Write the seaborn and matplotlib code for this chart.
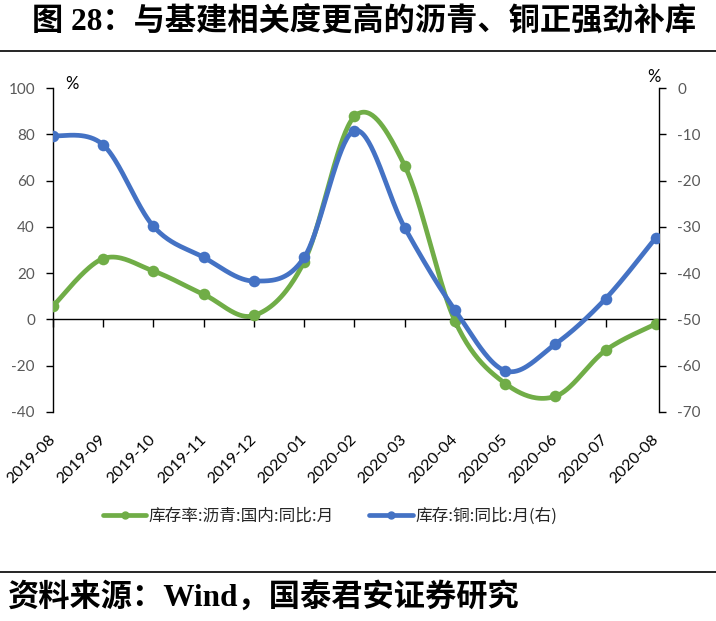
import numpy as np
import pandas as pd
import matplotlib
matplotlib.use("Agg")
import matplotlib.pyplot as plt
from matplotlib.lines import Line2D
import seaborn as sns

months = ["2019-08", "2019-09", "2019-10", "2019-11", "2019-12", "2020-01", "2020-02",
          "2020-03", "2020-04", "2020-05", "2020-06", "2020-07", "2020-08"]
asphalt = [5.8, 26.3, 20.9, 10.8, 1.7, 25.0, 87.7, 66.4, -0.7, -27.7, -33.2, -13.3, -1.9]
copper = [-10.3, -12.3, -29.9, -36.6, -41.7, -36.6, -9.2, -30.2, -48.0, -61.1, -55.3, -45.5, -32.3]
name_asphalt = "库存率:沥青:国内:同比:月"
name_copper = "库存:铜:同比:月(右)"
title = "图 28：与基建相关度更高的沥青、铜正强劲补库"
source = "资料来源：Wind，国泰君安证券研究"

GREEN = "#70AD47"
BLUE = "#4472C4"

sns.set_theme(style="white")
plt.rcParams["font.family"] = ["Lato", "Noto Sans CJK SC", "DejaVu Sans"]
plt.rcParams["axes.unicode_minus"] = False


def smooth(yvals, n=40):
    """Excel-like smoothed line (Catmull-Rom Bezier) through the data points."""
    y = np.asarray(yvals, float)
    x = np.arange(len(y), dtype=float)
    P = np.column_stack([x, y])
    ext = np.vstack([P[0], P, P[-1]])
    out = []
    t = np.linspace(0, 1, n)[:, None]
    for i in range(len(P) - 1):
        p0, p1, p2, p3 = ext[i], ext[i + 1], ext[i + 2], ext[i + 3]
        c1 = p1 + (p2 - p0) / 6.0
        c2 = p2 - (p3 - p1) / 6.0
        seg = ((1 - t) ** 3) * p1 + 3 * ((1 - t) ** 2) * t * c1 + 3 * (1 - t) * t ** 2 * c2 + t ** 3 * p2
        out.append(seg if i == 0 else seg[1:])
    out = np.vstack(out)
    return pd.DataFrame({"x": out[:, 0], "y": out[:, 1], "order": np.arange(len(out))})


fig = plt.figure(figsize=(7.16, 6.21), dpi=100)
fig.patch.set_facecolor("white")
W, H = 716, 621
ax = fig.add_axes([53 / W, 1 - 412 / H, (659 - 53) / W, (412 - 88) / H])
ax2 = ax.twinx()

xi = np.arange(len(months))
df_a = pd.DataFrame({"x": xi, "y": asphalt})
df_c = pd.DataFrame({"x": xi, "y": copper})

sns.lineplot(data=smooth(asphalt), x="x", y="y", sort=False, ax=ax, color=GREEN,
             linewidth=3.4, legend=False, estimator=None)
sns.scatterplot(data=df_a, x="x", y="y", ax=ax, color=GREEN, s=70, linewidth=0,
                legend=False, zorder=3)
sns.lineplot(data=smooth(copper), x="x", y="y", sort=False, ax=ax2, color=BLUE,
             linewidth=3.4, legend=False, estimator=None)
sns.scatterplot(data=df_c, x="x", y="y", ax=ax2, color=BLUE, s=70, linewidth=0,
                legend=False, zorder=3)

for a in (ax, ax2):
    a.set_xlim(0, 12.06)
    a.set_xlabel("")
    a.set_ylabel("")
    a.grid(False)
    a.set_facecolor("none")
    a.spines["top"].set_visible(False)

ax.set_ylim(-40, 100)
ax.set_yticks(np.arange(-40, 101, 20))
ax2.set_ylim(-70, 0)
ax2.set_yticks(np.arange(-70, 1, 10))

ax.spines["left"].set_color("black")
ax.spines["left"].set_linewidth(1.0)
ax.spines["right"].set_visible(False)
ax.spines["bottom"].set_position(("data", 0))
ax.spines["bottom"].set_color("black")
ax.spines["bottom"].set_linewidth(1.0)
ax2.spines["right"].set_color("black")
ax2.spines["right"].set_linewidth(1.0)
ax2.spines["left"].set_visible(False)
ax2.spines["bottom"].set_visible(False)

ax.set_xticks(xi)
ax.tick_params(axis="x", direction="out", length=6, width=1, color="black",
               labelbottom=False, bottom=True)
ax.tick_params(axis="y", direction="out", length=5, width=1, color="black", left=True,
               labelsize=11, labelcolor="#595959", pad=8)
ax2.tick_params(axis="y", direction="out", length=5, width=1, color="black", right=True,
                labelsize=11, labelcolor="#595959", pad=8)
ax2.tick_params(axis="x", bottom=False, labelbottom=False)

secax = ax.secondary_xaxis(0)
secax.set_xticks(xi, labels=months)
secax.tick_params(axis="x", length=0, pad=18, labelsize=11.5, labelcolor="black")
for sp in secax.spines.values():
    sp.set_visible(False)
for lab in secax.get_xticklabels():
    lab.set_rotation(45)
    lab.set_ha("right")
    lab.set_va("center")
    lab.set_rotation_mode("anchor")

fig.text(72 / W, 1 - 84 / H, "%", fontsize=12, color="black", ha="center", va="center")
fig.text(654 / W, 1 - 77 / H, "%", fontsize=12, color="black", ha="center", va="center")

handles = [
    Line2D([0], [0], color=GREEN, lw=3.4, marker="o", markersize=5),
    Line2D([0], [0], color=BLUE, lw=3.4, marker="o", markersize=5),
]
fig.legend(handles, [name_asphalt, name_copper], loc="center",
           bbox_to_anchor=(330 / W, 1 - 516 / H), ncol=2, frameon=False,
           prop={"family": ["Noto Sans CJK SC"], "size": 12},
           handlelength=2.6, handletextpad=0.15, columnspacing=2.1)

title_font = ["Liberation Serif", "Noto Sans CJK SC"]
fig.text(32 / W, 1 - 21 / H, title, fontsize=22.5, fontweight="bold", family=title_font,
         ha="left", va="center", color="black")
fig.add_artist(Line2D([0, 1], [1 - 51 / H, 1 - 51 / H], transform=fig.transFigure,
                      color="black", lw=1.2))
fig.add_artist(Line2D([0, 1], [1 - 572 / H, 1 - 572 / H], transform=fig.transFigure,
                      color="black", lw=1.2))
fig.text(8 / W, 1 - 597 / H, source, fontsize=22.5, fontweight="bold", family=title_font,
         ha="left", va="center", color="black")

fig.savefig("out.png", dpi=100, facecolor="white")
